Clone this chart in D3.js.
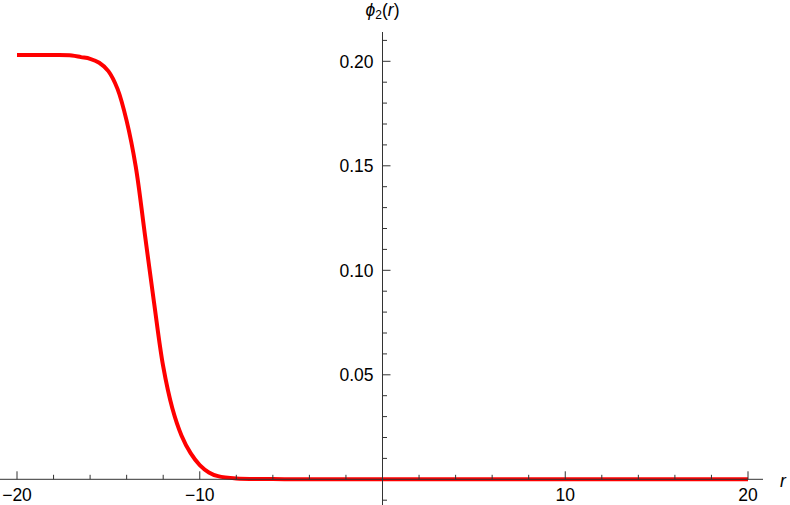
<!DOCTYPE html>
<html><head><meta charset="utf-8">
<script src="https://cdn.jsdelivr.net/npm/d3@7"></script>
<style>body{margin:0;background:#fff}svg{display:block}text{font-family:"Liberation Sans",Arial,sans-serif}</style>
</head><body>
<svg id="c" width="790" height="505"></svg>
<script>
const rValues = [-20, -18, -17, -16.5, -16, -15.5, -15, -14.5, -14, -13.5, -13, -12.5, -12, -11.5, -11, -10.5, -10, -9.5, -9, -8, -6, -4, 0, 5, 10, 15, 20];
const phi2Values = [0.203, 0.203, 0.2028, 0.202, 0.2012, 0.1993, 0.1953, 0.1868, 0.1715, 0.1495, 0.117, 0.0845, 0.054, 0.034, 0.021, 0.0125, 0.0068, 0.0033, 0.0015, 0.0004, 0.0001, 0, 0, 0, 0, 0, 0];
const xTickLabels = [-20, -10, 10, 20];
const yTickLabels = [0.05, 0.10, 0.15, 0.20];

const svg = d3.select("#c");
const x = d3.scaleLinear().domain([-20, 20]).range([17, 748]);
const y = d3.scaleLinear().domain([0, 0.2]).range([479.3, 61.3]);
const x0 = x(0), y0 = y(0);

// curve
const pts = rValues.map((r, i) => [r, phi2Values[i]]);
const line = d3.line().x(d => x(d[0])).y(d => y(d[1])).curve(d3.curveCatmullRom.alpha(0.5));
svg.append("path").attr("d", line(pts)).attr("fill", "none")
  .attr("stroke", "#ff0000").attr("stroke-width", 4).attr("stroke-linejoin", "round");

const axisColor = "#333";
svg.append("line").attr("x1", 0).attr("x2", 763).attr("y1", y0).attr("y2", y0)
  .attr("stroke", axisColor).attr("stroke-width", 1);
svg.append("line").attr("x1", x0).attr("x2", x0).attr("y1", 32).attr("y2", 505)
  .attr("stroke", axisColor).attr("stroke-width", 1);

// x ticks
const xMinor = d3.range(-20, 21, 2).filter(v => v % 10 !== 0);
const xMajor = [-20, -10, 10, 20];
svg.selectAll(".xmin").data(xMinor).enter().append("line")
  .attr("x1", d => x(d)).attr("x2", d => x(d)).attr("y1", y0).attr("y2", y0 - 4.5)
  .attr("stroke", axisColor);
svg.selectAll(".xmaj").data(xMajor).enter().append("line")
  .attr("x1", d => x(d)).attr("x2", d => x(d)).attr("y1", y0).attr("y2", y0 - 8)
  .attr("stroke", axisColor);
svg.selectAll(".xlab").data(xTickLabels).enter().append("text")
  .attr("x", d => x(d)).attr("y", 501).attr("text-anchor", "middle")
  .attr("font-size", 17.5).attr("fill", "#000")
  .text(d => d < 0 ? "\u2212" + Math.abs(d) : d);

// y ticks
const yMinor = d3.range(-1, 22).map(k => k / 100).filter(v => Math.round(v * 100) % 5 !== 0);
const yMajor = [0.05, 0.10, 0.15, 0.20];
svg.selectAll(".ymin").data(yMinor).enter().append("line")
  .attr("x1", x0).attr("x2", x0 + 4.5).attr("y1", d => y(d)).attr("y2", d => y(d))
  .attr("stroke", axisColor);
svg.selectAll(".ymaj").data(yMajor).enter().append("line")
  .attr("x1", x0).attr("x2", x0 + 8).attr("y1", d => y(d)).attr("y2", d => y(d))
  .attr("stroke", axisColor);
svg.selectAll(".ylab").data(yTickLabels).enter().append("text")
  .attr("x", x0 - 9).attr("y", d => y(d)).attr("dy", "0.36em").attr("text-anchor", "end")
  .attr("font-size", 17.5).attr("fill", "#000")
  .text(d => d.toFixed(2));

// axis labels
const yl = svg.append("text").attr("x", x0).attr("y", 16).attr("text-anchor", "middle")
  .attr("font-size", 17.5).attr("fill", "#000");
yl.append("tspan").attr("font-style", "italic").text("\u03D5");
yl.append("tspan").attr("font-size", 12).attr("dy", 3).text("2");
yl.append("tspan").attr("dy", -3).text("(");
yl.append("tspan").attr("font-style", "italic").text("r");
yl.append("tspan").text(")");

svg.append("text").attr("x", 780).attr("y", 487).attr("font-size", 17.5)
  .attr("font-style", "italic").attr("fill", "#000").text("r");
</script>
</body></html>
